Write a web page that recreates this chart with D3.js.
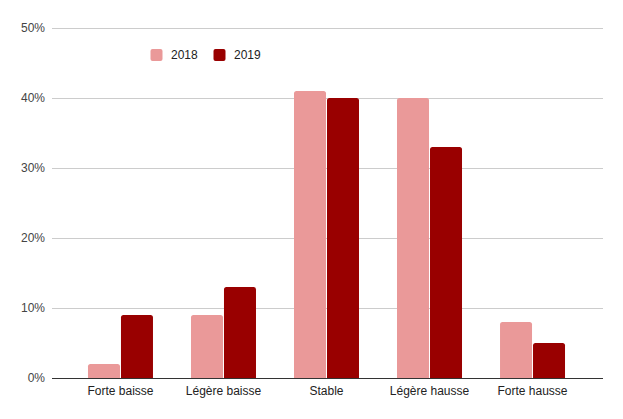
<!DOCTYPE html>
<html><head><meta charset="utf-8">
<script src="https://cdn.jsdelivr.net/npm/d3@7"></script>
<style>body{margin:0;background:#fff}svg{display:block;font-family:"Liberation Sans",Arial,sans-serif}</style>
</head><body>
<svg id="c" width="623" height="419"></svg>
<script>
const categories = ["Forte baisse","Légère baisse","Stable","Légère hausse","Forte hausse"];
const seriesNames = ["2018","2019"];
const values2018 = [2,9,41,40,8];
const values2019 = [9,13,40,33,5];
const yTicks = [0,10,20,30,40,50];
const colors = ["#ea9999","#990000"];

(function(){
const svg = d3.select("#c");
const pLeft = 51, pRight = 602, pTop = 28, pBottom = 378;
const y = d3.scaleLinear().domain([0,50]).range([pBottom, pTop]);
const x0 = d3.scaleBand().domain(categories).range([pLeft, pRight]).paddingInner(0.369).paddingOuter(0.359);
const x1 = d3.scaleBand().domain(seriesNames).range([0, x0.bandwidth()]).paddingInner(0.03);

// gridlines
svg.append("g").selectAll("line").data(yTicks.filter(t=>t>0)).join("line")
  .attr("x1", pLeft+1).attr("x2", pRight+1)
  .attr("y1", d=>Math.round(y(d))+0.5).attr("y2", d=>Math.round(y(d))+0.5)
  .attr("stroke","#cccccc").attr("stroke-width",1);

// y labels
svg.append("g").selectAll("text").data(yTicks).join("text")
  .attr("x", 45).attr("y", d=>y(d)).attr("dy","0.35em")
  .attr("text-anchor","end").attr("font-size",12).attr("fill","#444")
  .text(d=>d+"%");

const data = categories.map((c,i)=>({cat:c, vals:[values2018[i], values2019[i]]}));

function topRounded(x, yTop, w, h, r){
  r = Math.min(r, h, w/2);
  return `M${x},${yTop+h}V${yTop+r}Q${x},${yTop} ${x+r},${yTop}H${x+w-r}Q${x+w},${yTop} ${x+w},${yTop+r}V${yTop+h}Z`;
}

const g = svg.append("g").selectAll("g").data(data).join("g")
  .attr("transform", d=>`translate(${x0(d.cat)},0)`);
g.selectAll("path").data(d=>d.vals.map((v,k)=>({v, k}))).join("path")
  .attr("d", d=>{
    const xx = x1(seriesNames[d.k]);
    return topRounded(xx, y(d.v), x1.bandwidth(), pBottom - y(d.v), 2.5);
  })
  .attr("fill", d=>colors[d.k]);

// baseline
svg.append("line").attr("x1", pLeft+1).attr("x2", pRight+1)
  .attr("y1", pBottom+0.5).attr("y2", pBottom+0.5).attr("stroke","#333").attr("stroke-width",1);

// x labels
svg.append("g").selectAll("text").data(categories).join("text")
  .attr("x", d=>x0(d)+x0.bandwidth()/2).attr("y", 391).attr("dy","0.35em")
  .attr("text-anchor","middle").attr("font-size",12).attr("fill","#222")
  .text(d=>d);

// legend
const legX = [150.5, 213.5];
const leg = svg.append("g").selectAll("g").data(seriesNames).join("g")
  .attr("transform",(d,i)=>`translate(${legX[i]},49)`);
leg.append("rect").attr("width",12).attr("height",12).attr("rx",2).attr("fill",(d,i)=>colors[i]);
leg.append("text").attr("x",20.5).attr("y",6).attr("dy","0.35em")
  .attr("font-size",12).attr("fill","#222").text(d=>d);
})();
</script>
</body></html>
